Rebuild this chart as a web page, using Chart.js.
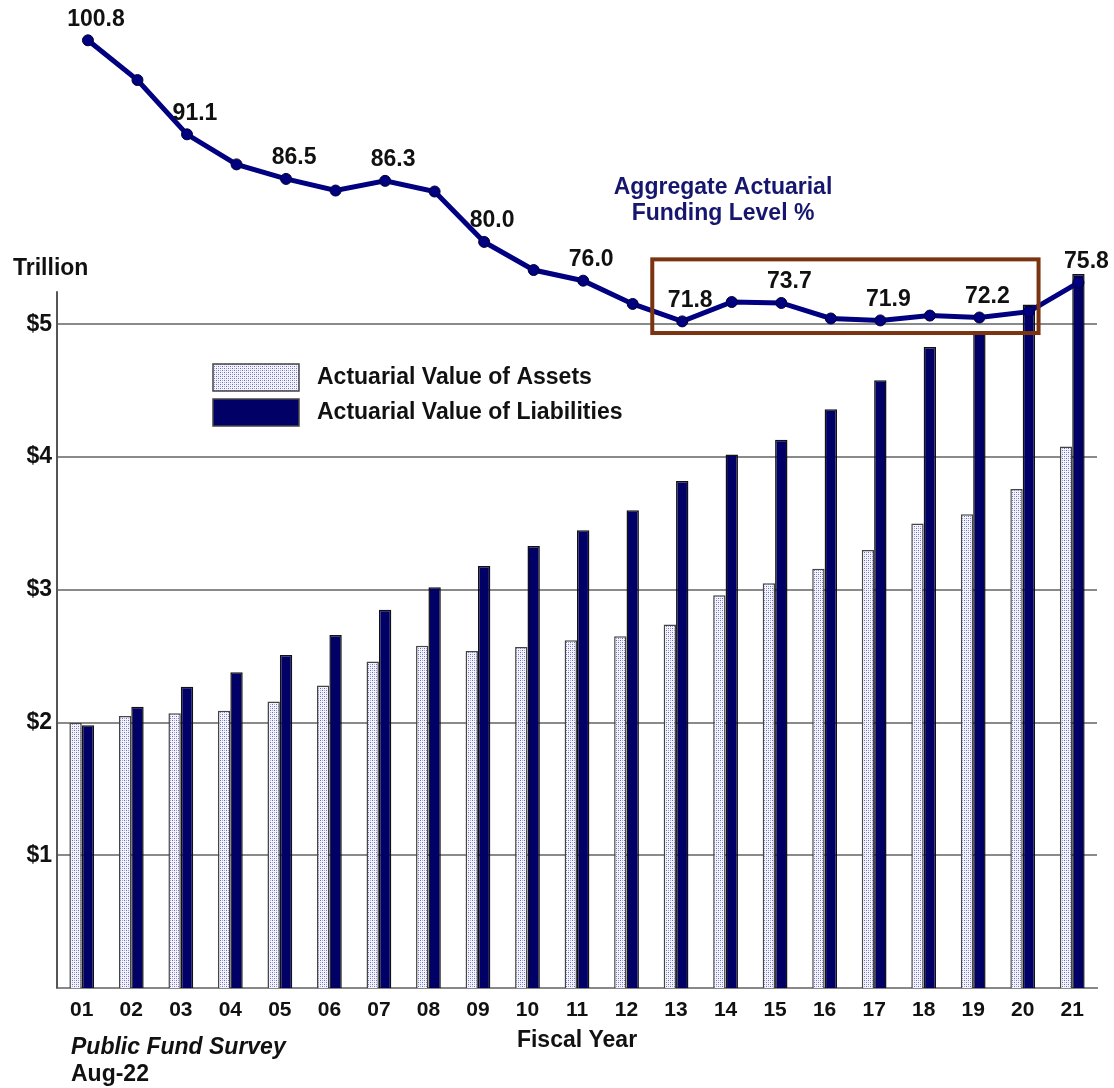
<!DOCTYPE html>
<html>
<head>
<meta charset="utf-8">
<title>Aggregate Actuarial Funding Level</title>
<script src="https://cdn.jsdelivr.net/npm/chart.js@4.4.1/dist/chart.umd.min.js"></script>
<style>
  html, body { margin:0; padding:0; background:#fff; }
  #wrap { width:1114px; height:1088px; }
</style>
</head>
<body>
<div id="wrap"><canvas id="chart" width="1114" height="1088"></canvas></div>
<script>
/* ---- data (trillions of $ / funding %) ---- */
const years        = ['01','02','03','04','05','06','07','08','09','10','11','12','13','14','15','16','17','18','19','20','21'];
const assets       = [2.00,2.05,2.07,2.09,2.16,2.28,2.46,2.58,2.54,2.57,2.62,2.65,2.74,2.96,3.05,3.16,3.30,3.50,3.57,3.76,4.08];
const liabilities  = [1.98,2.12,2.27,2.38,2.51,2.66,2.85,3.02,3.18,3.33,3.45,3.60,3.82,4.02,4.13,4.36,4.58,4.83,4.95,5.15,5.38];
const fundingPct   = [100.8,96.7,91.1,88.0,86.5,85.3,86.3,85.2,80.0,77.1,76.0,73.6,71.8,73.8,73.7,72.1,71.9,72.4,72.2,72.8,75.8];
const labeledYears = ['01','03','05','07','09','11','13','15','17','19','21'];
const yTicks       = [1,2,3,4,5];
const boxYears     = ['13','20'];      // brown highlight box
const boxPct       = [70.6, 78.2];

const FONT = 'Arial, "Liberation Sans", sans-serif';
const NAVY = '#000066';
const LINE = '#000080';

/* dotted fill for the assets bars */
function dotPattern() {
  const c = document.createElement('canvas');
  c.width = 4; c.height = 4;
  const g = c.getContext('2d');
  g.fillStyle = '#f4f4fc'; g.fillRect(0, 0, 4, 4);
  g.fillStyle = '#6a6ac4';
  g.fillRect(0, 0, 1, 1); g.fillRect(2, 2, 1, 1);
  g.fillStyle = '#a8a8dc';
  g.fillRect(2, 0, 1, 1); g.fillRect(0, 2, 1, 1);
  return g.createPattern(c, 'repeat');
}

const extras = {
  id: 'extras',
  // funding points sit over the liabilities bars
  afterDatasetsUpdate(chart) {
    const bars = chart.getDatasetMeta(1).data;
    chart.getDatasetMeta(2).data.forEach((pt, i) => { if (bars[i]) pt.x = bars[i].x; });
  },
  beforeDatasetsDraw(chart) {
    const { ctx, scales: { y } } = chart;
    ctx.save();
    ctx.strokeStyle = '#555';
    ctx.lineWidth = 2;
    ctx.beginPath();
    ctx.moveTo(chart.chartArea.left, y.getPixelForValue(0));
    ctx.lineTo(chart.chartArea.left, y.getPixelForValue(5.25));
    ctx.stroke();
    ctx.restore();
  },
  afterDatasetsDraw(chart) {
    const { ctx, scales: { x, y2 } } = chart;
    ctx.save();

    // value labels over the funding line
    const meta = chart.getDatasetMeta(2);
    ctx.font = `bold 23px ${FONT}`;
    ctx.fillStyle = '#111';
    ctx.textAlign = 'center';
    ctx.textBaseline = 'middle';
    labeledYears.forEach(yr => {
      const i = years.indexOf(yr);
      const pt = meta.data[i];
      ctx.fillText(fundingPct[i].toFixed(1), pt.x + 8, pt.y - 21);
    });

    // highlight box
    const catW = x.getPixelForValue(1) - x.getPixelForValue(0);
    const bl = x.getPixelForValue(years.indexOf(boxYears[0])) - catW * 0.48;
    const br = x.getPixelForValue(years.indexOf(boxYears[1])) + catW * 0.32;
    const bt = y2.getPixelForValue(boxPct[1]);
    const bb = y2.getPixelForValue(boxPct[0]);
    ctx.strokeStyle = '#7b3411';
    ctx.lineWidth = 4;
    ctx.strokeRect(bl, bt, br - bl, bb - bt);

    // series title for the line
    ctx.fillStyle = '#16166e';
    ctx.font = `bold 23px ${FONT}`;
    ctx.fillText('Aggregate Actuarial', 723, 188);
    ctx.fillText('Funding Level %', 723, 214);

    // legend
    const items = [
      { text: 'Actuarial Value of Assets',      ds: chart.data.datasets[0] },
      { text: 'Actuarial Value of Liabilities', ds: chart.data.datasets[1] }
    ];
    items.forEach((it, k) => {
      const top = 364 + k * 35;
      ctx.fillStyle = it.ds.backgroundColor;
      ctx.fillRect(213, top, 86, 27);
      ctx.strokeStyle = '#444';
      ctx.lineWidth = 1.5;
      ctx.strokeRect(213, top, 86, 27);
      ctx.fillStyle = '#111';
      ctx.textAlign = 'left';
      ctx.fillText(it.text, 317, top + 14);
    });

    // axis unit + source
    ctx.fillStyle = '#111';
    ctx.textAlign = 'left';
    ctx.fillText('Trillion', 13, 269);
    ctx.font = `italic bold 23px ${FONT}`;
    ctx.fillText('Public Fund Survey', 71, 1048);
    ctx.font = `bold 23px ${FONT}`;
    ctx.fillText('Aug-22', 71, 1075);
    ctx.restore();
  }
};

new Chart(document.getElementById('chart'), {
  data: {
    labels: years,
    datasets: [
      { type: 'bar', label: 'Actuarial Value of Assets', data: assets,
        backgroundColor: dotPattern(), borderColor: '#444', borderWidth: 1.5,
        categoryPercentage: 0.5, barPercentage: 1.0, order: 1 },
      { type: 'bar', label: 'Actuarial Value of Liabilities', data: liabilities,
        backgroundColor: NAVY, borderColor: '#111', borderWidth: 1.5,
        categoryPercentage: 0.5, barPercentage: 1.0, order: 1 },
      { type: 'line', label: 'Aggregate Actuarial Funding Level %', data: fundingPct,
        yAxisID: 'y2',
        borderColor: LINE, borderWidth: 5, tension: 0,
        pointRadius: 5.5, pointBackgroundColor: LINE, pointBorderColor: '#000030', pointBorderWidth: 1,
        order: 0 }
    ]
  },
  options: {
    indexAxis: 'x',
    responsive: false,
    animation: false,
    events: [],
    layout: { padding: { top: 19, right: 17, bottom: 34, left: 0 } },
    plugins: { legend: { display: false }, tooltip: { enabled: false } },
    scales: {
      x: {
        type: 'category',
        offset: true,
        grid: { display: false, drawTicks: false },
        border: { display: true, color: '#888', width: 2 },
        ticks: { color: '#111', font: { family: FONT, size: 21, weight: 'bold' }, padding: 9, maxRotation: 0 },
        title: { display: true, text: 'Fiscal Year', color: '#111',
                 font: { family: FONT, size: 23, weight: 'bold' }, padding: { top: -5, bottom: 0 } }
      },
      y: {
        min: 0, max: 7.3,
        afterBuildTicks: s => { s.ticks = yTicks.map(v => ({ value: v })); },
        afterFit: s => { s.width = 57; },
        grid: { color: '#8a8a8a', lineWidth: 2, drawTicks: false },
        border: { display: false },
        ticks: { color: '#111', font: { family: FONT, size: 23, weight: 'bold' }, padding: 5,
                 callback: v => '$' + v }
      },
      y2: { display: false, min: 3, max: 103 }
    }
  },
  plugins: [extras]
});
</script>
</body>
</html>
